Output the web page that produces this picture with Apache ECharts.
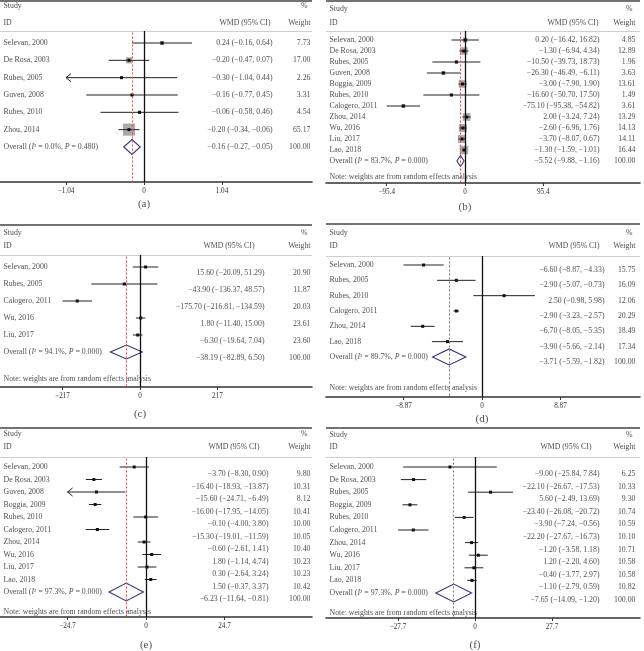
<!DOCTYPE html>
<html><head><meta charset="utf-8">
<script src="https://cdn.jsdelivr.net/npm/echarts@6/dist/echarts.min.js"></script>
<style>html,body{margin:0;padding:0;background:#fff}#c{width:644px;height:651px}</style>
</head><body><div id="c"></div>
<script>
// ---------- DATA ----------
const aStudies = ["Selevan, 2000","De Rosa, 2003","Rubes, 2005","Guven, 2008","Rubes, 2010","Zhou, 2014"];
const aWMD    = [0.24,-0.20,-0.30,-0.16,-0.06,-0.20];
const aLower  = [-0.16,-0.47,-1.04,-0.77,-0.58,-0.34];
const aUpper  = [0.64,0.07,0.44,0.45,0.46,-0.06];
const aWeight = [7.73,17.00,2.26,3.31,4.54,65.17];
const aArrow  = [false,false,true,false,false,false];
const aOverall = [-0.16,-0.27,-0.05];
const aI2 = "0.0", aP = "0.480", aTick = "1.04";

const bStudies = ["Selevan, 2000","De Rosa, 2003","Rubes, 2005","Guven, 2008","Boggia, 2009","Rubes, 2010","Calogero, 2011","Zhou, 2014","Wu, 2016","Liu, 2017","Lao, 2018"];
const bWMD    = [0.20,-1.30,-10.50,-26.30,-3.00,-16.60,-75.10,2.00,-2.60,-3.70,-1.30];
const bLower  = [-16.42,-6.94,-39.73,-46.49,-7.90,-50.70,-95.38,-3.24,-6.96,-8.07,-1.59];
const bUpper  = [16.82,4.34,18.73,-6.11,1.90,17.50,-54.82,7.24,1.76,0.67,-1.01];
const bWeight = [4.85,12.89,1.96,3.63,13.61,1.49,3.61,13.29,14.13,14.11,16.44];
const bArrow  = [false,false,false,false,false,false,false,false,false,false,false];
const bOverall = [-5.52,-9.88,-1.16];
const bI2 = "83.7", bP = "0.000", bTick = "95.4";

const cStudies = ["Selevan, 2000","Rubes, 2005","Calogero, 2011","Wu, 2016","Liu, 2017"];
const cWMD    = [15.60,-43.90,-175.70,1.80,-6.30];
const cLower  = [-20.09,-136.37,-216.81,-11.40,-19.64];
const cUpper  = [51.29,48.57,-134.59,15.00,7.04];
const cWeight = [20.90,11.87,20.03,23.61,23.60];
const cArrow  = [false,false,false,false,false];
const cOverall = [-38.19,-82.89,6.50];
const cI2 = "94.1", cP = "0.000", cTick = "217";

const dStudies = ["Selevan, 2000","Rubes, 2005","Rubes, 2010","Calogero, 2011","Zhou, 2014","Lao, 2018"];
const dWMD    = [-6.60,-2.90,2.50,-2.90,-6.70,-3.90];
const dLower  = [-8.87,-5.07,-0.98,-3.23,-8.05,-5.66];
const dUpper  = [-4.33,-0.73,5.98,-2.57,-5.35,-2.14];
const dWeight = [15.75,16.09,12.06,20.29,18.49,17.34];
const dArrow  = [false,false,false,false,false,false];
const dOverall = [-3.71,-5.59,-1.82];
const dI2 = "89.7", dP = "0.000", dTick = "8.87";

const eStudies = ["Selevan, 2000","De Rosa, 2003","Guven, 2008","Boggia, 2009","Rubes, 2010","Calogero, 2011","Zhou, 2014","Wu, 2016","Liu, 2017","Lao, 2018"];
const eWMD    = [-3.70,-16.40,-15.60,-16.00,-0.10,-15.30,-0.60,1.80,0.30,1.50];
const eLower  = [-8.30,-18.93,-24.71,-17.95,-4.00,-19.01,-2.61,-1.14,-2.64,-0.37];
const eUpper  = [0.90,-13.87,-6.49,-14.05,3.80,-11.59,1.41,4.74,3.24,3.37];
const eWeight = [9.80,10.31,8.12,10.41,10.00,10.05,10.40,10.23,10.23,10.42];
const eArrow  = [false,false,true,false,false,false,false,false,false,false];
const eOverall = [-6.23,-11.64,-0.81];
const eI2 = "97.3", eP = "0.000", eTick = "24.7";

const fStudies = ["Selevan, 2000","De Rosa, 2003","Rubes, 2005","Boggia, 2009","Rubes, 2010","Calogero, 2011","Zhou, 2014","Wu, 2016","Liu, 2017","Lao, 2018"];
const fWMD    = [-9.00,-22.10,5.60,-23.40,-3.90,-22.20,-1.20,1.20,-0.40,-1.10];
const fLower  = [-25.84,-26.67,-2.49,-26.08,-7.24,-27.67,-3.58,-2.20,-3.77,-2.79];
const fUpper  = [7.84,-17.53,13.69,-20.72,-0.56,-16.73,1.18,4.60,2.97,0.59];
const fWeight = [6.25,10.33,9.30,10.74,10.59,10.10,10.71,10.58,10.58,10.82];
const fArrow  = [false,false,false,false,false,false,false,false,false,false];
const fOverall = [-7.65,-14.09,-1.20];
const fI2 = "97.3", fP = "0.000", fTick = "27.7";

const panelLabels = ["(a)","(b)","(c)","(d)","(e)","(f)"];
const noteText = "Note: weights are from random effects analysis";

const panels = [
  {studies:aStudies, wmd:aWMD, lo:aLower, hi:aUpper, w:aWeight, arrow:aArrow, overall:aOverall, i2:aI2, p:aP, tick:aTick, note:false},
  {studies:bStudies, wmd:bWMD, lo:bLower, hi:bUpper, w:bWeight, arrow:bArrow, overall:bOverall, i2:bI2, p:bP, tick:bTick, note:true},
  {studies:cStudies, wmd:cWMD, lo:cLower, hi:cUpper, w:cWeight, arrow:cArrow, overall:cOverall, i2:cI2, p:cP, tick:cTick, note:true},
  {studies:dStudies, wmd:dWMD, lo:dLower, hi:dUpper, w:dWeight, arrow:dArrow, overall:dOverall, i2:dI2, p:dP, tick:dTick, note:true},
  {studies:eStudies, wmd:eWMD, lo:eLower, hi:eUpper, w:eWeight, arrow:eArrow, overall:eOverall, i2:eI2, p:eP, tick:eTick, note:true},
  {studies:fStudies, wmd:fWMD, lo:fLower, hi:fUpper, w:fWeight, arrow:fArrow, overall:fOverall, i2:fI2, p:fP, tick:fTick, note:true}
];

// ---------- LAYOUT (pixels) ----------
const layouts = [
  {left:0,   right:312, top:1,   bottom:182, zero:144, tickPx:78,   row0:43,  step:17.33, study:6,   id:23,  sep:31,  note:0,   label:204, wmdRight:273, wmdHead:271, wRight:311, shift:0, box:1.5, dia:7.5},
  {left:326, right:640, top:1,   bottom:183, zero:465, tickPx:78.3, row0:40,  step:11,    study:9,   id:23,  sep:31,  note:177, label:207, wmdRight:600, wmdHead:599, wRight:636, shift:0, box:2.1, dia:5.5},
  {left:0,   right:312, top:225, bottom:387, zero:140, tickPx:77.5, row0:267, step:17,    study:233, id:246, sep:255, note:379, label:414, wmdRight:265, wmdHead:255, wRight:311, shift:6, box:0, dia:7},
  {left:326, right:640, top:224, bottom:397, zero:482, tickPx:78.5, row0:265, step:15.33, study:233, id:246, sep:256, note:388, label:419, wmdRight:605, wmdHead:600, wRight:636, shift:5, box:0, dia:8},
  {left:0,   right:312, top:428, bottom:617, zero:146, tickPx:78.5, row0:467, step:12.5,  study:434, id:447, sep:457, note:612, label:645, wmdRight:269, wmdHead:260, wRight:311, shift:7, box:0, dia:9},
  {left:326, right:640, top:428, bottom:618, zero:475, tickPx:77,   row0:467, step:12.6,  study:435, id:447, sep:457, note:613, label:645, wmdRight:600, wmdHead:592, wRight:636, shift:7, box:0, dia:9}
];

const FONT = "Liberation Serif";
const FS = 7.8;
const TXT = "#222";
const f2 = v => (v < 0 ? "\u2212" : "") + Math.abs(v).toFixed(2);

const grids = [], xAxes = [], yAxes = [], series = [];

panels.forEach((P, gi) => {
  const L = layouts[gi];
  const tick = parseFloat(P.tick);
  const ppu = L.tickPx / tick;
  const xOf = px => (px - L.zero) / ppu;
  const rowOf = px => (px - L.row0) / L.step;
  const xmin = xOf(L.left), xmax = xOf(L.right);
  const ymin = rowOf(L.top), ymax = rowOf(L.bottom);
  const n = P.studies.length;

  grids.push({left:L.left, top:L.top, width:L.right - L.left, height:L.bottom - L.top});
  xAxes.push({
    gridIndex:gi, type:'value', min:xmin, max:xmax,
    axisLine:{show:true, onZero:false, lineStyle:{color:'#333', width:1.6}},
    axisTick:{show:true, customValues:[-tick,0,tick], length:3, lineStyle:{color:'#333', width:1}},
    axisLabel:{show:true, customValues:[-tick,0,tick], fontFamily:FONT, fontSize:7.2, color:'#333', margin:6,
      formatter: v => Math.abs(v) < 1e-9 ? "0" : (v < 0 ? "\u2212" : "") + P.tick},
    splitLine:{show:false}
  });
  yAxes.push({gridIndex:gi, type:'value', inverse:true, min:ymin, max:ymax, show:false});

  // marks
  const data = [];
  for (let i = 0; i < n; i++) data.push([0, P.wmd[i], P.lo[i], P.hi[i], P.w[i], i, P.arrow[i] ? 1 : 0]);
  data.push([1, P.overall[0], P.overall[1], P.overall[2], 100, n, 0]);

  series.push({
    type:'custom', coordinateSystem:'cartesian2d', xAxisIndex:gi, yAxisIndex:gi, silent:true, z:3,
    data,
    renderItem: (params, api) => {
      const kind = api.value(0), est = api.value(1), lo = api.value(2), hi = api.value(3);
      const w = api.value(4), r = api.value(5), arrow = api.value(6);
      const c = api.coord([est, r]);
      const pl = api.coord([arrow ? -tick : lo, r]);
      const ph = api.coord([hi, r]);
      if (kind === 1) {
        const h = L.dia;
        return {type:'polygon', shape:{points:[[pl[0],c[1]],[c[0],c[1]-h],[ph[0],c[1]],[c[0],c[1]+h]]},
          style:{fill:'rgba(255,255,255,0)', stroke:'#34347e', lineWidth:1.1}};
      }
      const kids = [];
      const s = L.box * Math.sqrt(w);
      if (s > 0) kids.push({type:'rect', shape:{x:c[0]-s/2, y:c[1]-s/2, width:s, height:s}, style:{fill:'#a9a9a9'}});
      kids.push({type:'line', shape:{x1:pl[0], y1:c[1], x2:ph[0], y2:c[1]}, style:{stroke:'#222', lineWidth:1}});
      kids.push({type:'rect', shape:{x:c[0]-1.5, y:c[1]-1.5, width:3, height:3}, style:{fill:'#111'}});
      if (arrow) kids.push({type:'polyline', shape:{points:[[pl[0]+5,c[1]-4],[pl[0],c[1]],[pl[0]+5,c[1]+4]]}, style:{stroke:'#222', fill:'none', lineWidth:1}});
      return {type:'group', children:kids};
    }
  });

  // texts
  const items = [];
  const base = {fontFamily:FONT, fontSize:FS, color:TXT, distance:0};
  const add = (text, x, y, pos, extra) => items.push({name:text, value:[x, y], label:Object.assign({show:true, position:pos}, base, extra || {})});
  add("Study", xOf(L.left + 3), rowOf(L.study), 'right');
  add("ID", xOf(L.left + 3), rowOf(L.id), 'right');
  add("WMD (95% CI)", xOf(L.wmdHead), rowOf(L.id), 'left');
  add("%", xOf(L.wRight - 3), rowOf(L.study), 'left');
  add("Weight", xOf(L.wRight), rowOf(L.id), 'left');
  const sh = L.shift / L.step;
  for (let i = 0; i < n; i++) {
    add(P.studies[i], xOf(L.left + 3), i, 'right');
    add(f2(P.wmd[i]) + " (" + f2(P.lo[i]) + ", " + f2(P.hi[i]) + ")", xOf(L.wmdRight), i + sh, 'left');
    add(P.w[i].toFixed(2), xOf(L.wRight), i + sh, 'left');
  }
  add("Overall ({it|I}\u00B2 = " + P.i2 + "%, {it|P} = " + P.p + ")", xOf(L.left + 3), n, 'right',
      {rich:{it:{fontFamily:FONT, fontSize:FS, color:TXT, fontStyle:'italic'}}});
  add(f2(P.overall[0]) + " (" + f2(P.overall[1]) + ", " + f2(P.overall[2]) + ")", xOf(L.wmdRight), n + sh, 'left');
  add("100.00", xOf(L.wRight), n + sh, 'left');
  if (P.note) add(noteText, xOf(L.left + 3), rowOf(L.note), 'right');
  add(panelLabels[gi], 0, rowOf(L.label), 'inside', {fontSize:11, color:'#222'});

  const sepR = rowOf(L.sep);
  series.push({
    type:'scatter', xAxisIndex:gi, yAxisIndex:gi, symbol:'rect', symbolSize:1, clip:false, silent:true, z:4,
    itemStyle:{color:'rgba(0,0,0,0)'},
    label:{show:true, formatter: p => p.name},
    labelLayout:{hideOverlap:false},
    data: items,
    markLine:{
      silent:true, symbol:['none','none'], label:{show:false}, animation:false,
      data:[
        [{coord:[xmin, ymin], lineStyle:{color:'#444', width:1.6, type:'solid'}}, {coord:[xmax, ymin]}],
        [{coord:[xmin, sepR], lineStyle:{color:'#cfcfcf', width:1, type:'solid'}}, {coord:[xmax, sepR]}],
        [{coord:[0, sepR], lineStyle:{color:'#111', width:1.3, type:'solid'}}, {coord:[0, ymax]}],
        [{coord:[P.overall[0], sepR + 1.5 / L.step], lineStyle:{color:'#c45a5a', width:1, type:[2,2]}}, {coord:[P.overall[0], ymax]}]
      ]
    }
  });
});

const chart = echarts.init(document.getElementById('c'), null, {renderer:'canvas'});
chart.setOption({
  animation:false,
  backgroundColor:'#fff',
  textStyle:{fontFamily:FONT},
  grid:grids, xAxis:xAxes, yAxis:yAxes, series
});
</script>
</body></html>
